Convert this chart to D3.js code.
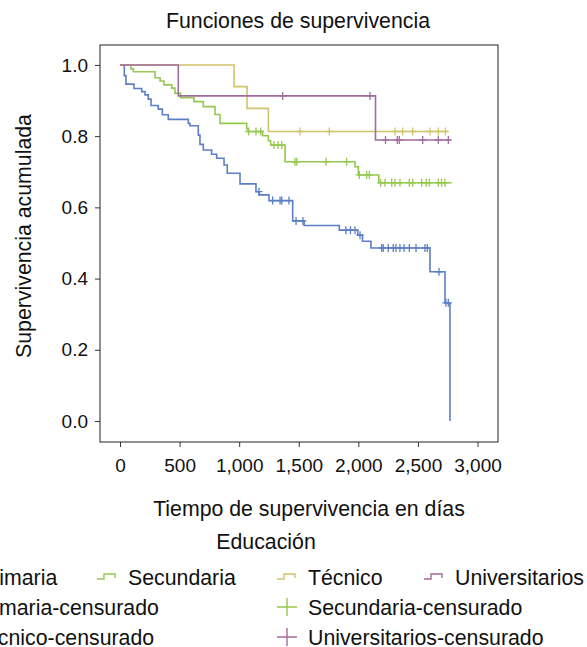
<!DOCTYPE html>
<html>
<head>
<meta charset="utf-8">
<script src="https://cdn.jsdelivr.net/npm/d3@7"></script>
<style>
  body { margin: 0; background: #fff; }
  svg { display: block; }
  text { font-family: "Liberation Sans", Arial, Helvetica, sans-serif; fill: #111; }
</style>
</head>
<body>
<div id="chart"></div>
<script>
// grupos de educación
var categories = ['Primaria', 'Secundaria', 'Técnico', 'Universitarios'];
var colors = ['#5b7fc6', '#95c84e', '#cfc46b', '#a26b9f'];

// tiempos de evento (días) y supervivencia acumulada tras cada evento
var primariaT = [0, 36, 50, 117, 182, 210, 237, 260, 321, 355, 405, 573, 587, 657, 671, 699, 769, 811, 873, 900, 1007, 1141, 1169, 1250, 1449, 1545, 1840, 1995, 2035, 2106, 2601, 2727, 2769];
var primariaS = [1, 0.970, 0.946, 0.934, 0.925, 0.916, 0.904, 0.886, 0.876, 0.860, 0.847, 0.836, 0.829, 0.803, 0.777, 0.761, 0.749, 0.738, 0.719, 0.696, 0.666, 0.644, 0.635, 0.619, 0.562, 0.549, 0.536, 0.522, 0.505, 0.486, 0.419, 0.332, 0];
var primariaCens = [1166, 1281, 1343, 1357, 1418, 1477, 1535, 1896, 1934, 1972, 2014, 2196, 2209, 2251, 2293, 2316, 2349, 2383, 2428, 2484, 2559, 2579, 2677, 2735, 2755];

var secundariaT = [0, 92, 112, 294, 336, 369, 434, 461, 509, 621, 699, 797, 839, 1063, 1075, 1197, 1245, 1264, 1385, 1972, 2000, 2172, 2783];
var secundariaS = [1, 0.989, 0.981, 0.964, 0.955, 0.944, 0.935, 0.920, 0.908, 0.897, 0.883, 0.861, 0.836, 0.820, 0.813, 0.801, 0.787, 0.775, 0.728, 0.714, 0.691, 0.669, 0.669];
var secundariaCens = [1080, 1141, 1181, 1292, 1326, 1357, 1468, 1483, 1729, 1902, 2008, 2070, 2092, 2188, 2224, 2280, 2308, 2349, 2428, 2456, 2532, 2570, 2595, 2671, 2698, 2727];

var tecnicoT = [0, 957, 1066, 1245, 2746];
var tecnicoS = [1, 0.939, 0.878, 0.813, 0.813];
var tecnicoCens = [1510, 1756, 2308, 2372, 2456, 2601, 2671, 2731];

var universitariosT = [0, 489, 2144, 2775];
var universitariosS = [1, 0.913, 0.789, 0.789];
var universitariosCens = [1365, 2098, 2228, 2327, 2344, 2540, 2671, 2755];

var xTicks = [0, 500, 1000, 1500, 2000, 2500, 3000];
var yTicks = [0, 0.2, 0.4, 0.6, 0.8, 1.0];

var series = [
  {name: categories[0], t: primariaT, s: primariaS, cens: primariaCens},
  {name: categories[1], t: secundariaT, s: secundariaS, cens: secundariaCens},
  {name: categories[2], t: tecnicoT, s: tecnicoS, cens: tecnicoCens},
  {name: categories[3], t: universitariosT, s: universitariosS, cens: universitariosCens}
];

var W = 587, H = 647;
var plot = {left: 100, right: 498, top: 45, bottom: 442};
var labelSize = '21.3px';

var svg = d3.select('#chart').append('svg')
    .attr('width', W).attr('height', H);

var x = d3.scaleLinear().domain([-168, 3172]).range([plot.left, plot.right]);
var y = d3.scaleLinear().domain([-0.059, 1.056]).range([plot.bottom, plot.top]);

// título
svg.append('text')
    .attr('x', 298).attr('y', 27.5)
    .attr('text-anchor', 'middle')
    .style('font-size', labelSize)
    .text('Funciones de supervivencia');

// marco
svg.append('rect')
    .attr('x', plot.left).attr('y', plot.top)
    .attr('width', plot.right - plot.left).attr('height', plot.bottom - plot.top)
    .attr('fill', 'none').attr('stroke', '#222').attr('stroke-width', 1);

// ejes
var yAxis = svg.append('g')
    .attr('transform', 'translate(' + plot.left + ',0)')
    .call(d3.axisLeft(y).tickValues(yTicks).tickFormat(d3.format('.1f')).tickSize(5).tickPadding(7));
var xAxis = svg.append('g')
    .attr('transform', 'translate(0,' + plot.bottom + ')')
    .call(d3.axisBottom(x).tickValues(xTicks).tickFormat(d3.format(',')).tickSize(5).tickPadding(12));
[xAxis, yAxis].forEach(function(a) {
  a.select('.domain').remove();
  a.selectAll('.tick line').attr('stroke', '#333');
  a.selectAll('.tick text').style('font-size', '19px').attr('fill', '#111')
      .style('font-family', '"Liberation Sans", Arial, Helvetica, sans-serif');
});

svg.append('text')
    .attr('transform', 'translate(31,236) rotate(-90)')
    .attr('text-anchor', 'middle')
    .style('font-size', labelSize)
    .text('Supervivencia acumulada');

svg.append('text')
    .attr('x', 309).attr('y', 515.5)
    .attr('text-anchor', 'middle')
    .style('font-size', labelSize)
    .text('Tiempo de supervivencia en días');

// curvas de Kaplan-Meier
var line = d3.line()
    .x(function(d) { return x(d[0]); })
    .y(function(d) { return y(d[1]); })
    .curve(d3.curveStepAfter);

function survAt(sr, t) {
  var v = sr.s[0];
  for (var i = 0; i < sr.t.length; i++) { if (sr.t[i] <= t) v = sr.s[i]; }
  return v;
}

var curves = svg.append('g');
series.forEach(function(sr, i) {
  var pts = sr.t.map(function(t, j) { return [t, sr.s[j]]; });
  curves.append('path')
      .attr('d', line(pts))
      .attr('fill', 'none')
      .attr('stroke', colors[i])
      .attr('stroke-width', 1.6);
  curves.selectAll('.c' + i).data(sr.cens).enter().append('path')
      .attr('class', 'c' + i)
      .attr('d', function(t) {
        var cx = x(t), cy = y(survAt(sr, t));
        return 'M' + (cx - 3.5) + ',' + cy + 'H' + (cx + 3.5) + 'M' + cx + ',' + (cy - 4) + 'V' + (cy + 4);
      })
      .attr('stroke', colors[i])
      .attr('stroke-width', 1.3)
      .attr('fill', 'none');
});

// leyenda
svg.append('text')
    .attr('x', 266).attr('y', 548.5)
    .attr('text-anchor', 'middle')
    .style('font-size', labelSize)
    .text('Educación');

// la primera fila (líneas) y las filas de censurados tienen columnas distintas
var colLines = [-22, 128, 308, 455];
var colCens = [-27, 308];
var rowY = [577, 607, 637];
var items = [];
categories.forEach(function(c, i) { items.push({label: c, color: colors[i], kind: 'line', x: colLines[i], row: 0}); });
categories.forEach(function(c, i) { items.push({label: c + '-censurado', color: colors[i], kind: 'cens', x: colCens[i % 2], row: 1 + Math.floor(i / 2)}); });

var leg = svg.append('g').selectAll('g').data(items).enter().append('g')
    .attr('transform', function(d) { return 'translate(' + d.x + ',' + rowY[d.row] + ')'; });
leg.append('path')
    .attr('d', function(d) {
      if (d.kind === 'line') return 'M-31,2H-24V-3H-13V1';
      return 'M-31,0H-11M-21,-9V9';
    })
    .attr('fill', 'none')
    .attr('stroke', function(d) { return d.color; })
    .attr('stroke-width', 1.4);
leg.append('text')
    .attr('y', 7.5)
    .style('font-size', labelSize)
    .text(function(d) { return d.label; });
</script>
</body>
</html>
